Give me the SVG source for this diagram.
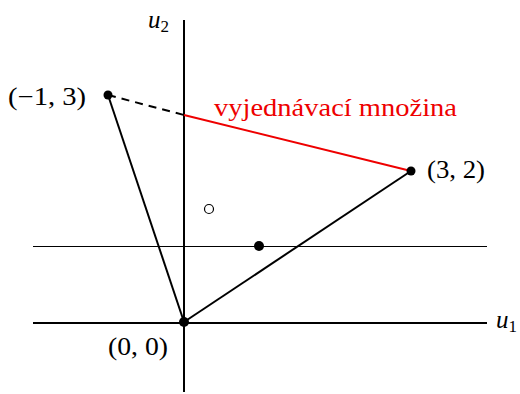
<svg xmlns="http://www.w3.org/2000/svg" width="520" height="394" viewBox="0 0 520 394">
<style>
.ax{stroke:#000;stroke-width:2;fill:none}
.ln{stroke:#000;stroke-width:2;fill:none}
.thin{stroke:#000;stroke-width:1;fill:none}
.dot{fill:#000}
</style>
<rect width="520" height="394" fill="#fff"/>
<g id="connectors">
<line class="ax" x1="33" y1="323" x2="487" y2="323"/>
<line class="ax" x1="184" y1="20" x2="184" y2="392"/>
<line class="thin" x1="33" y1="246.5" x2="487" y2="246.5"/>
<line class="ln" x1="184" y1="322" x2="108" y2="95"/>
<line class="ln" x1="184" y1="322" x2="411" y2="171"/>
<line class="ln" x1="108" y1="95" x2="184" y2="115" stroke-dasharray="8,6"/>
<line x1="184" y1="115" x2="411" y2="171" stroke="#e00" stroke-width="2"/>
</g>
<g font-family="Liberation Serif, serif" font-size="25" fill="#000">
<g id="axis-u1"><text x="496" y="328" font-style="italic">u<tspan font-size="17" font-style="normal" dy="4">1</tspan></text></g>
<g id="axis-u2"><text x="148" y="28" font-style="italic">u<tspan font-size="17" font-style="normal" dy="4">2</tspan></text></g>
<g id="p-origin"><circle class="dot" cx="184" cy="322" r="5"/><text x="108" y="355" textLength="60" lengthAdjust="spacingAndGlyphs">(0, 0)</text></g>
<g id="p-m13"><circle class="dot" cx="108" cy="95" r="4.5"/><text x="8" y="105" textLength="78" lengthAdjust="spacingAndGlyphs">(−1, 3)</text></g>
<g id="p-32"><circle class="dot" cx="411" cy="171" r="4.5"/><text x="427" y="178" textLength="58" lengthAdjust="spacingAndGlyphs">(3, 2)</text></g>
<g id="p-11"><circle class="dot" cx="259" cy="246" r="5"/></g>
<g id="p-open"><circle cx="209" cy="209" r="4.5" fill="#fff" stroke="#000" stroke-width="1.2"/></g>
<g id="label-set"><text x="214" y="116" fill="#e00" textLength="243" lengthAdjust="spacingAndGlyphs">vyjednávací množina</text></g>
</g>
</svg>
